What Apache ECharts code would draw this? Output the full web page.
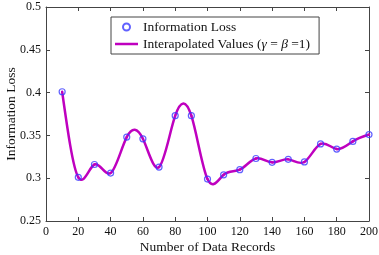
<!DOCTYPE html>
<html>
<head>
<meta charset="utf-8">
<script src="https://cdn.jsdelivr.net/npm/echarts@6/dist/echarts.min.js"></script>
<style>
  html, body { margin: 0; padding: 0; background: #fff; }
  #main { width: 379px; height: 255px; }
</style>
</head>
<body>
<div id="main"></div>
<script>
// 数据
var records = [10, 20, 30, 40, 50, 60, 70, 80, 90, 100, 110, 120, 130, 140, 150, 160, 170, 180, 190, 200];
var infoLoss = [0.401, 0.301, 0.316, 0.306, 0.348, 0.346, 0.313, 0.373, 0.373, 0.299,
                0.304, 0.310, 0.323, 0.3185, 0.322, 0.319, 0.340, 0.334, 0.343, 0.351];
var xTicks = [0, 200, 20];
var yTicks = [0.25, 0.5, 0.05];

var font = 'Liberation Serif';
var axisColor = '#444';
var lineColor = '#bf00bf';

var pts = records.map(function (r, i) { return [r, infoLoss[i]]; });

// 三次样条（自然边界）求每个点的斜率，用于画贝塞尔曲线段
function splineSlopes(xs, ys) {
  var n = xs.length, h = [], i;
  for (i = 0; i < n - 1; i++) h.push(xs[i + 1] - xs[i]);
  var a = [], b = [], c = [], d = [];
  for (i = 0; i < n; i++) {
    if (i === 0 || i === n - 1) { a.push(0); b.push(1); c.push(0); d.push(0); continue; }
    a.push(h[i - 1]);
    b.push(2 * (h[i - 1] + h[i]));
    c.push(h[i]);
    d.push(6 * ((ys[i + 1] - ys[i]) / h[i] - (ys[i] - ys[i - 1]) / h[i - 1]));
  }
  for (i = 1; i < n; i++) {
    var w = a[i] / b[i - 1];
    b[i] -= w * c[i - 1];
    d[i] -= w * d[i - 1];
  }
  var M = new Array(n);
  M[n - 1] = d[n - 1] / b[n - 1];
  for (i = n - 2; i >= 0; i--) M[i] = (d[i] - c[i] * M[i + 1]) / b[i];
  var seg = [];
  for (i = 0; i < n - 1; i++) {
    var sl = (ys[i + 1] - ys[i]) / h[i];
    seg.push([sl - h[i] * (2 * M[i] + M[i + 1]) / 6, sl + h[i] * (M[i] + 2 * M[i + 1]) / 6]);
  }
  return seg;
}
var slopes = splineSlopes(records, infoLoss);

var chart = echarts.init(document.getElementById('main'));

function axisBase(pos, isX) {
  return {
    type: 'value',
    position: pos,
    min: isX ? xTicks[0] : yTicks[0],
    max: isX ? xTicks[1] : yTicks[1],
    interval: isX ? xTicks[2] : yTicks[2],
    axisLine: { show: true, onZero: false, lineStyle: { color: axisColor, width: 1 } },
    axisTick: { show: true, inside: true, length: 4, lineStyle: { color: axisColor } },
    splitLine: { show: false }
  };
}

var xMain = axisBase('bottom', true);
xMain.name = 'Number of Data Records';
xMain.nameLocation = 'middle';
xMain.nameGap = 19;
xMain.nameMoveOverlap = false;
xMain.nameTextStyle = { fontFamily: font, fontSize: 13.5, color: '#111' };
xMain.axisLabel = { fontFamily: font, fontSize: 12, color: '#111', margin: 5 };

var xTop = axisBase('top', true);
xTop.axisLabel = { show: false };

var yMain = axisBase('left', false);
yMain.name = 'Information Loss';
yMain.nameLocation = 'middle';
yMain.nameGap = 28;
yMain.nameMoveOverlap = false;
yMain.nameTextStyle = { fontFamily: font, fontSize: 13.5, color: '#111' };
yMain.axisLabel = {
  fontFamily: font, fontSize: 12, color: '#111', margin: 5,
  formatter: function (v) { return String(Math.round(v * 100) / 100); }
};

var yRight = axisBase('right', false);
yRight.axisLabel = { show: false };

var option = {
  animation: false,
  grid: { left: 46, right: 10, top: 7, bottom: 34, containLabel: false, outerBoundsMode: 'none' },
  xAxis: [xMain, xTop],
  yAxis: [yMain, yRight],
  legend: {
    left: 111,
    top: 17,
    orient: 'vertical',
    align: 'left',
    padding: [3, 9, 3, 4],
    itemGap: 3,
    itemWidth: 23,
    itemHeight: 7,
    borderColor: '#444',
    borderWidth: 1,
    backgroundColor: '#fff',
    data: [
      { name: 'Information Loss' },
      { name: 'Interapolated Values', icon: 'path://M0,0L23,0L23,2.5L0,2.5Z', itemStyle: { color: lineColor } }
    ],
    formatter: function (name) {
      if (name === 'Interapolated Values') {
        return '{n|Interapolated Values (}{i|γ}{n| = }{i|β}{n| =1)}';
      }
      return '{n|' + name + '}';
    },
    textStyle: {
      fontFamily: font, fontSize: 13.5, color: '#111',
      rich: {
        n: { fontFamily: font, fontSize: 13.5, color: '#111' },
        i: { fontFamily: font, fontSize: 13.5, color: '#111', fontStyle: 'italic' }
      }
    }
  },
  series: [
    {
      name: 'Interapolated Values',
      type: 'custom',
      data: pts,
      z: 2,
      itemStyle: { color: lineColor },
      renderItem: function (params, api) {
        var i = params.dataIndex;
        if (i >= pts.length - 1) return null;
        var x0 = records[i], x1 = records[i + 1], h = x1 - x0;
        var p0 = api.coord([x0, infoLoss[i]]);
        var p1 = api.coord([x1, infoLoss[i + 1]]);
        var c0 = api.coord([x0 + h / 3, infoLoss[i] + slopes[i][0] * h / 3]);
        var c1 = api.coord([x1 - h / 3, infoLoss[i + 1] - slopes[i][1] * h / 3]);
        return {
          type: 'bezierCurve',
          shape: { x1: p0[0], y1: p0[1], x2: p1[0], y2: p1[1], cpx1: c0[0], cpy1: c0[1], cpx2: c1[0], cpy2: c1[1] },
          style: { stroke: lineColor, lineWidth: 2.5, fill: null, lineCap: 'round' }
        };
      }
    },
    {
      name: 'Information Loss',
      type: 'scatter',
      data: pts,
      symbol: 'circle',
      symbolSize: 6,
      z: 3,
      itemStyle: { color: 'rgba(0,0,0,0)', borderColor: '#3a3aff', borderWidth: 1.2 }
    }
  ]
};

chart.setOption(option);
</script>
</body>
</html>
